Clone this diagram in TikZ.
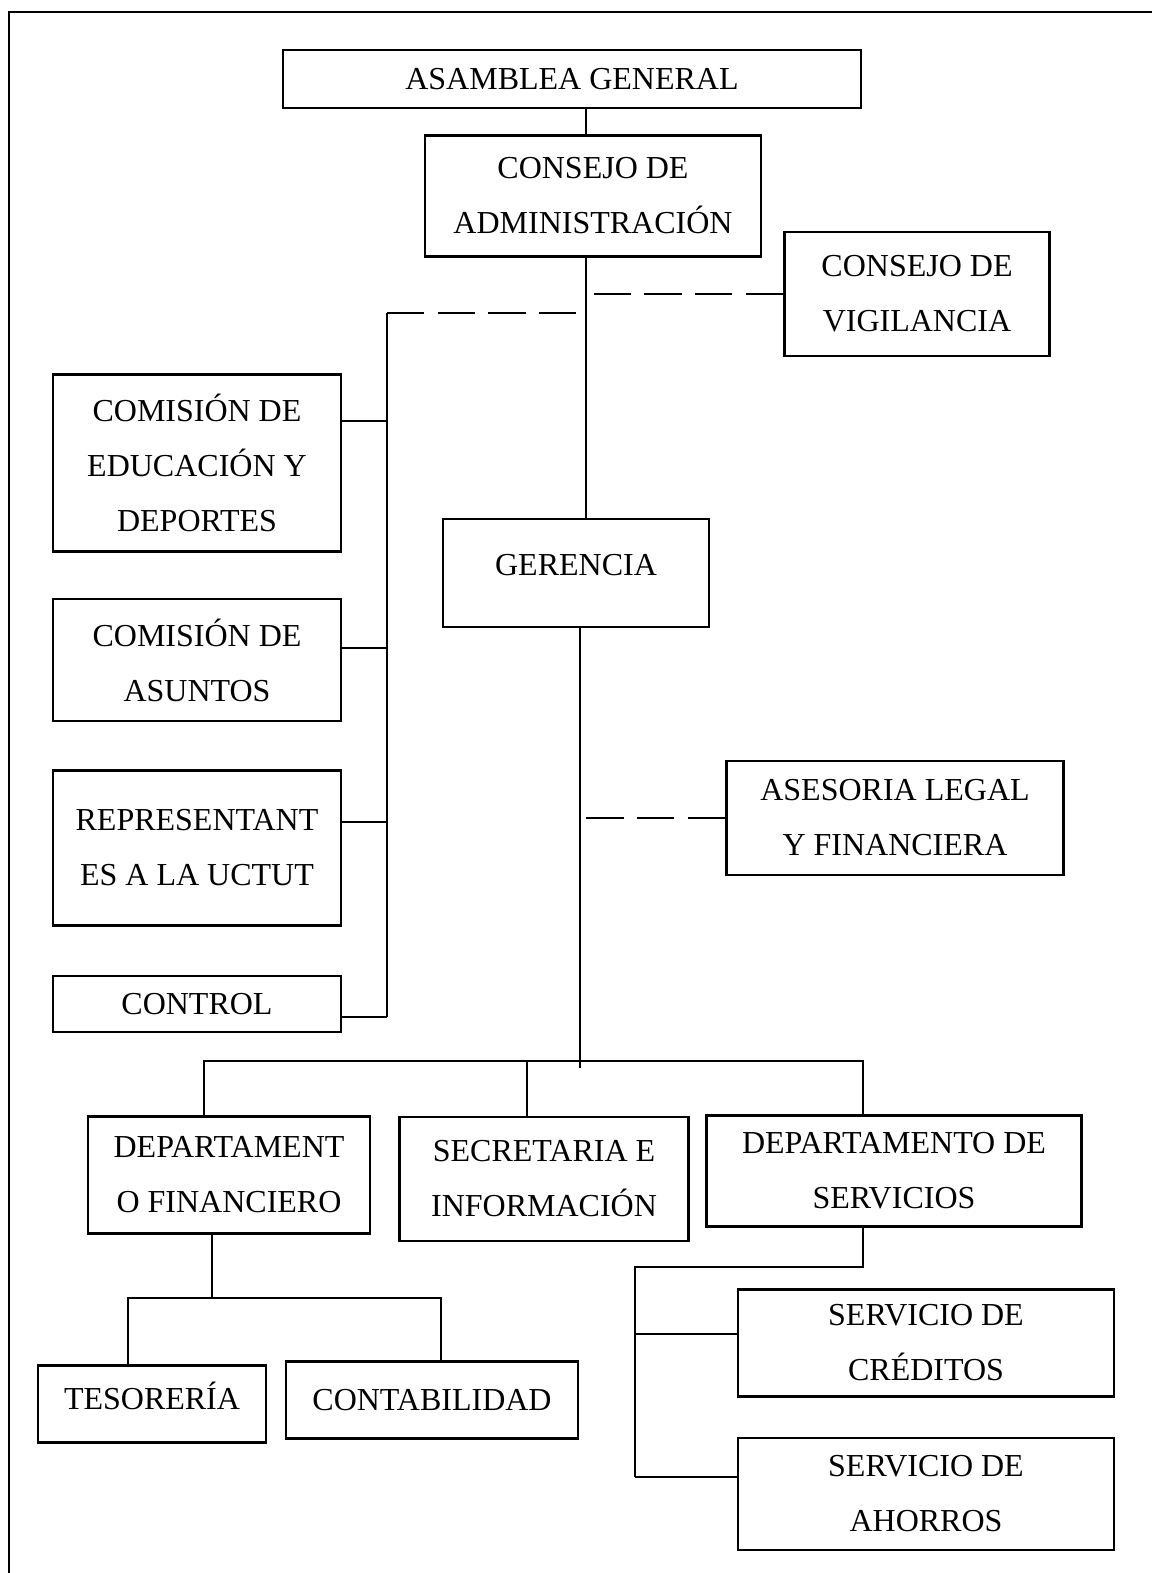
\documentclass[tikz,border=0pt]{standalone}
\usepackage{fontspec}
\setmainfont{Liberation Serif}

\begin{document}
\begin{tikzpicture}[x = 0.375pt, y = -0.375pt, % one unit per pixel, y down
                line width = 1.1pt, % line style
                font = \fontsize{12}{20.6}\selectfont,
                wh/.style 2 args = {minimum width = #1*0.375pt,
                minimum height = #2*0.375pt}
            ]

            \tikzstyle{orgbox}=[draw = black, rectangle, align = center,
            inner sep = 0pt]
            \tikzstyle{highertext}=[text depth = 6pt] % text sits above middle
            \tikzstyle{dashline}=[line width = 0.8pt,
            dash pattern = on 14pt off 5pt]

            \useasboundingbox (0,0) rectangle (1152,1573);
            \draw[line width = 0.75pt] (9,1573) -- (9,12) -- (1152,12);

            \node[orgbox, wh={578}{58}] (asamblea) at (572,79) {ASAMBLEA GENERAL};
            \node[orgbox, wh={336}{121}] (consejo) at (593,196)
            {CONSEJO DE\\ADMINISTRACIÓN};
            \node[orgbox, wh={265}{124}] (vigilancia) at (917,294)
            {CONSEJO DE\\VIGILANCIA};
            \node[orgbox, wh={288}{177}] (educacion) at (197,463)
            {COMISIÓN DE\\EDUCACIÓN Y\\DEPORTES};
            \node[orgbox, highertext, wh={266}{108}] (gerencia) at (576,573)
            {GERENCIA};
            \node[orgbox, wh={288}{122}] (asuntos) at (197,660)
            {COMISIÓN DE\\ASUNTOS};
            \node[orgbox, wh={288}{155}] (representantes) at (197,848)
            {REPRESENTANT\\ES A LA UCTUT};
            \node[orgbox, wh={337}{114}] (asesoria) at (895,818)
            {ASESORIA LEGAL\\Y FINANCIERA};
            \node[orgbox, wh={288}{56}] (control) at (197,1004) {CONTROL};
            \node[orgbox, wh={282}{117}] (depfinanciero) at (229,1175)
            {DEPARTAMENT\\O FINANCIERO};
            \node[orgbox, wh={289}{124}] (secretaria) at (544,1179)
            {SECRETARIA E\\INFORMACIÓN};
            \node[orgbox, wh={375}{111}] (depservicios) at (894,1171)
            {DEPARTAMENTO DE\\SERVICIOS};
            \node[orgbox, highertext, wh={228}{77}] (tesoreria) at (152,1404)
            {TESORERÍA};
            \node[orgbox, wh={292}{77}] (contabilidad) at (432,1400)
            {CONTABILIDAD};
            \node[orgbox, wh={376}{107}] (creditos) at (926,1343)
            {SERVICIO DE\\CRÉDITOS};
            \node[orgbox, wh={376}{112}] (ahorros) at (926,1494)
            {SERVICIO DE\\AHORROS};

            \coordinate (spine) at (586,0); \coordinate (gspine) at (580,0);
            \coordinate (lbus) at (387,313); \coordinate (hbus) at (204,1061);
            \coordinate (hbusend) at (863,1061); \coordinate (fbus) at (128,1298);
            \coordinate (sbus) at (635,1267);

            \draw (asamblea.south -| spine) -- (consejo.north -| spine);
            \draw (consejo.south -| spine) -- (gerencia.north -| spine);
            \draw[dashline] (vigilancia.west) -- (spine |- vigilancia.west);
            \draw[dashline] (lbus) -- (lbus -| gspine);

            \draw (lbus) -- (lbus |- 0,1017);
            \foreach \y/\n in {421/educacion, 648/asuntos,
            822/representantes, 1017/control}
            \draw (\n.east |- 0,\y) -- (lbus |- 0,\y);

            \draw (gerencia.south -| gspine) -- (gspine |- 0,1068);
            \draw[dashline] (asesoria.west) -- (gspine |- asesoria.west);

            \draw (depfinanciero.north -| hbus) -- (hbus) -- (hbusend)
            -- (hbusend |- depservicios.north);
            \draw (hbus -| 527,0) -- (secretaria.north -| 527,0);

            \draw (depfinanciero.south -| 212,0) -- (fbus -| 212,0);
            \draw (tesoreria.north -| fbus) -- (fbus) -- (fbus -| 441,0)
            -- (contabilidad.north -| 441,0);

            \draw (depservicios.south -| hbusend) -- (sbus -| hbusend) -- (sbus)
            -- (sbus |- 0,1477);
            \draw (sbus |- 0,1334) -- (creditos.west |- 0,1334);
            \draw (sbus |- 0,1477) -- (ahorros.west |- 0,1477);
        \end{tikzpicture}
\end{document}
